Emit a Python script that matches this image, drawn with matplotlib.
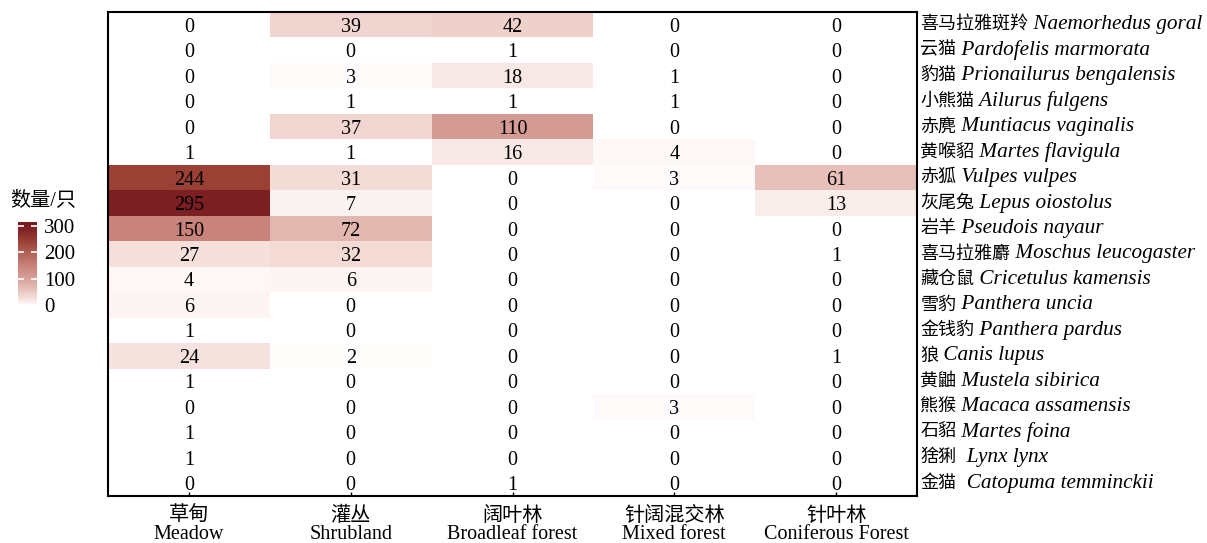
import numpy as np
import matplotlib.pyplot as plt
from matplotlib.colors import LinearSegmentedColormap, Normalize

plt.rcParams['font.family'] = ['Liberation Serif', 'Noto Sans CJK SC']

# 生境类型
habitats_cn = ['草甸', '灌丛', '阔叶林', '针阔混交林', '针叶林']
habitats_en = ['Meadow', 'Shrubland', 'Broadleaf forest', 'Mixed forest', 'Coniferous Forest']

# 物种（从上到下）
species_cn = ['喜马拉雅斑羚', '云猫', '豹猫', '小熊猫', '赤麂', '黄喉貂', '赤狐', '灰尾兔',
              '岩羊', '喜马拉雅麝', '藏仓鼠', '雪豹', '金钱豹', '狼', '黄鼬', '熊猴',
              '石貂', '猞猁', '金猫']
species_latin = [' Naemorhedus goral', ' Pardofelis marmorata', ' Prionailurus bengalensis',
                 ' Ailurus fulgens', ' Muntiacus vaginalis', ' Martes flavigula',
                 ' Vulpes vulpes', ' Lepus oiostolus', ' Pseudois nayaur',
                 ' Moschus leucogaster', ' Cricetulus kamensis', ' Panthera uncia',
                 ' Panthera pardus', ' Canis lupus', ' Mustela sibirica',
                 ' Macaca assamensis', ' Martes foina', '  Lynx lynx', '  Catopuma temminckii']

# 各生境记录数量/只
meadow     = [0, 0, 0, 0, 0, 1, 244, 295, 150, 27, 4, 6, 1, 24, 1, 0, 1, 1, 0]
shrubland  = [39, 0, 3, 1, 37, 1, 31, 7, 72, 32, 6, 0, 0, 2, 0, 0, 0, 0, 0]
broadleaf  = [42, 1, 18, 1, 110, 16, 0, 0, 0, 0, 0, 0, 0, 0, 0, 0, 0, 0, 1]
mixed      = [0, 0, 1, 1, 0, 4, 3, 0, 0, 0, 0, 0, 0, 0, 0, 3, 0, 0, 0]
coniferous = [0, 0, 0, 0, 0, 0, 61, 13, 0, 1, 0, 0, 0, 1, 0, 0, 0, 0, 0]

counts = np.array([meadow, shrubland, broadleaf, mixed, coniferous]).T

# 白 -> 深红 渐变
vmax = 315
stops = [(0, '#ffffff'), (6, '#fbf3f1'), (18, '#f7e7e4'), (31, '#f3dbd6'),
         (42, '#efd1cc'), (61, '#e6c0b9'), (72, '#e1b7af'), (110, '#d49b94'),
         (150, '#c8837a'), (244, '#9a4034'), (295, '#7b1f22'), (315, '#741b1f')]
cmap = LinearSegmentedColormap.from_list('counts', [(v / vmax, c) for v, c in stops])
norm = Normalize(0, vmax)

W, H = 1207, 543
fig = plt.figure(figsize=(W / 100, H / 100), dpi=100)
ax = fig.add_axes([108 / W, 1 - 496 / H, (917 - 108) / W, (496 - 12) / H])

n_rows, n_cols = counts.shape
ax.pcolormesh(np.arange(n_cols + 1) - 0.5, np.arange(n_rows + 1) - 0.5, counts,
              cmap=cmap, norm=norm)
ax.set_xlim(-0.5, n_cols - 0.5)
ax.set_ylim(n_rows - 0.5, -0.5)

for i in range(n_rows):
    for j in range(n_cols):
        ax.text(j, i, str(counts[i, j]), ha='center', va='center_baseline', fontsize=14.5)

# 右侧物种名：中文 + 斜体学名
for i, (cn, la) in enumerate(zip(species_cn, species_latin)):
    t = ax.text(1.004, i, cn, transform=ax.get_yaxis_transform(),
                ha='left', va='center', fontsize=13)
    ax.annotate(la, xy=(1, 0.5), xycoords=t, ha='left', va='center',
                fontsize=15.3, style='italic')

ax.set_xticks(range(n_cols), [f'{c}\n{e}' for c, e in zip(habitats_cn, habitats_en)])
ax.tick_params(axis='x', direction='in', length=3, width=1, pad=8, labelsize=14.5)
for lab in ax.get_xticklabels():
    lab.set_linespacing(0.92)
ax.set_yticks([])
for s in ax.spines.values():
    s.set_linewidth(1.5)
    s.set_color('black')

# 图例色条
cax = fig.add_axes([18 / W, 1 - 305 / H, 19 / W, 83 / H])
grad = np.linspace(0, vmax, 256).reshape(-1, 1)
cax.imshow(grad, cmap=cmap, norm=norm, aspect='auto', origin='lower',
           extent=[0, 1, 0, vmax])
cax.set_xticks([])
cax.set_yticks([0, 100, 200, 300])
cax.yaxis.tick_right()
cax.tick_params(axis='y', left=True, right=True, direction='in', length=4,
                width=1.2, color='white', labelsize=15, pad=5)
for s in cax.spines.values():
    s.set_visible(False)
fig.text(10 / W, 1 - 201 / H, '数量/只', ha='left', va='center', fontsize=14.5)

fig.savefig('out.png', dpi=100)
